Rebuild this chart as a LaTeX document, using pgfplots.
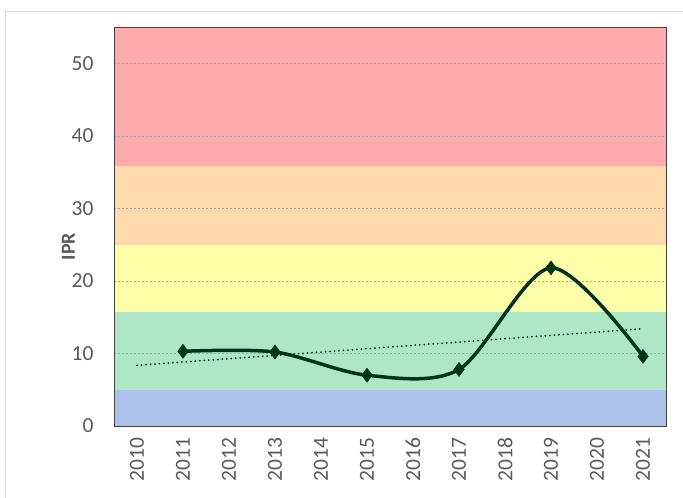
\documentclass[border=0pt]{standalone}
\usepackage{fontspec}
\setmainfont{Carlito}
\usepackage{pgfplots}
\pgfplotsset{compat=1.18}
\definecolor{bred}{HTML}{FFAAAD}
\definecolor{borange}{HTML}{FDD9AC}
\definecolor{byellow}{HTML}{FFFFAA}
\definecolor{bgreen}{HTML}{AEE6C6}
\definecolor{bblue}{HTML}{ADC2EA}
\definecolor{txt}{HTML}{595959}
\definecolor{line}{HTML}{00331A}
\begin{document}
\begin{tikzpicture}
\begin{axis}[
  set layers,
  scale only axis,
  width=552pt, height=399pt,
  xmin=-0.5, xmax=11.5,
  ymin=0, ymax=55,
  xtick={0,...,11},
  xticklabels={2010,2011,2012,2013,2014,2015,2016,2017,2018,2019,2020,2021},
  x tick label style={rotate=90, anchor=east, font=\fontsize{21.5}{21.5}\selectfont, text=txt},
  ytick={0,10,20,30,40,50},
  y tick label style={font=\fontsize{21.5}{21.5}\selectfont, text=txt},
  /pgf/number format/assume math mode=true,
  major tick length=0pt,
  xtick pos=bottom, ytick pos=left,
  ymajorgrids,
  grid style={black!35, line width=0.4pt, dash pattern=on 2pt off 2pt},
  axis line style={black!75, line width=0.8pt},
  ylabel={\textbf{IPR}},
  every axis y label/.style={at={(ticklabel cs:0.5)}, rotate=90, anchor=center, xshift=-20pt, font=\fontsize{20}{20}\selectfont, text=txt},
  xticklabel shift=8pt,
  yticklabel shift=17pt,
]
\addplot[fill=bblue, draw=none, on layer=axis background] coordinates {(-0.5,0) (11.5,0) (11.5,5) (-0.5,5)} -- cycle;
\addplot[fill=bgreen, draw=none, on layer=axis background] coordinates {(-0.5,5) (11.5,5) (11.5,15.75) (-0.5,15.75)} -- cycle;
\addplot[fill=byellow, draw=none, on layer=axis background] coordinates {(-0.5,15.75) (11.5,15.75) (11.5,25) (-0.5,25)} -- cycle;
\addplot[fill=borange, draw=none, on layer=axis background] coordinates {(-0.5,25) (11.5,25) (11.5,35.8) (-0.5,35.8)} -- cycle;
\addplot[fill=bred, draw=none, on layer=axis background] coordinates {(-0.5,35.8) (11.5,35.8) (11.5,55) (-0.5,55)} -- cycle;
\addplot[line, line width=3.5pt, smooth, tension=0.5, mark=diamond*, mark size=7pt, mark options={solid, line width=0.5pt, fill=line}] coordinates {
  (1,10.3) (3,10.2) (5,7.0) (7,7.8) (9,21.8) (11,9.6)};
\addplot[line, line width=2pt, line cap=round, dash pattern=on 0pt off 4.5pt] coordinates {(0,8.36) (11,13.41)};
\end{axis}
\pgfresetboundingbox
\path[use as bounding box] (-114pt,-72pt) rectangle (569pt,426pt);
\draw[black!15, line width=0.8pt] (-109pt,-90pt) -- (-109pt,415pt) -- (600pt,415pt);
\end{tikzpicture}
\end{document}
